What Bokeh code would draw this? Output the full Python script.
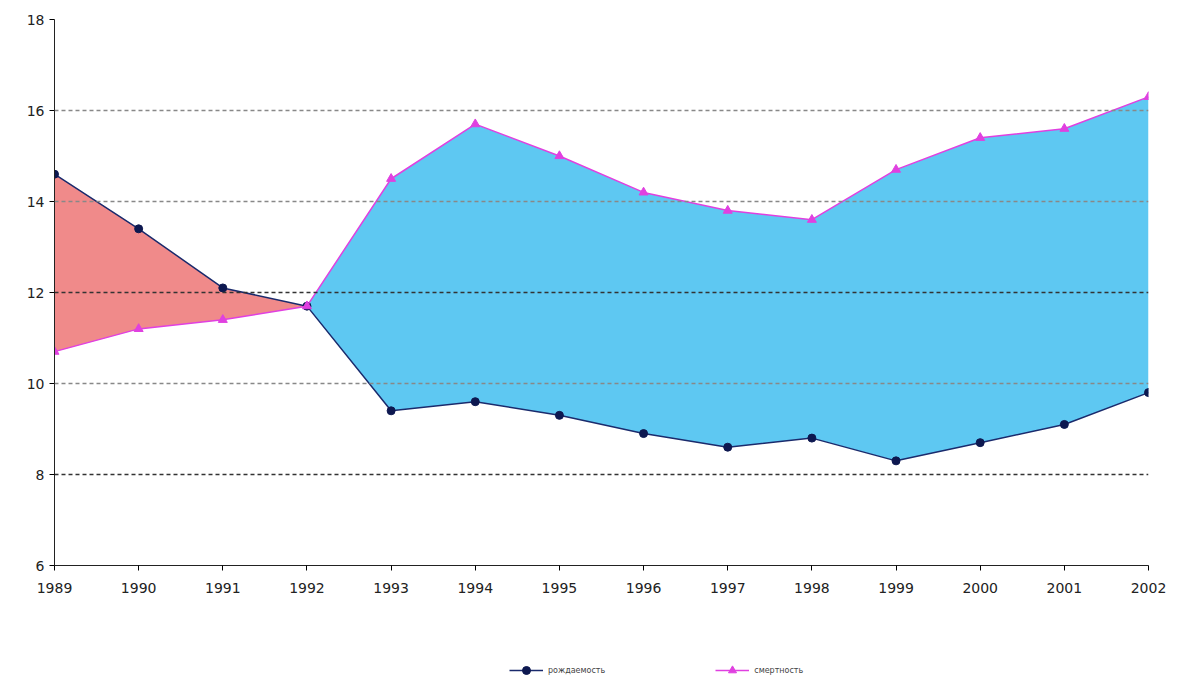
from bokeh.plotting import figure
from bokeh.models import ColumnDataSource, Legend, LegendItem, Span, FixedTicker
from bokeh.layouts import column
from bokeh.embed import file_html
from bokeh.resources import INLINE

years = list(range(1989, 2003))
birth = [14.6, 13.4, 12.1, 11.7, 9.4, 9.6, 9.3, 8.9, 8.6, 8.8, 8.3, 8.7, 9.1, 9.8]
death = [10.7, 11.2, 11.4, 11.7, 14.5, 15.7, 15.0, 14.2, 13.8, 13.6, 14.7, 15.4, 15.6, 16.3]
grid_levels = [8, 10, 12, 14, 16]

src = ColumnDataSource(dict(x=years, b=birth, d=death))
red = ColumnDataSource(dict(x=years[:4], b=birth[:4], d=death[:4]))
blue = ColumnDataSource(dict(x=years[3:], b=birth[3:], d=death[3:]))

p = figure(width=1170, height=610, x_range=(1989, 2002), y_range=(6, 18),
           output_backend="svg", toolbar_location=None,
           min_border_left=54, min_border_right=22, min_border_top=19, min_border_bottom=45)
p.outline_line_color = None
p.xgrid.visible = False
p.ygrid.visible = False

p.varea(x="x", y1="b", y2="d", source=red, fill_color="#f08a8a")
p.varea(x="x", y1="b", y2="d", source=blue, fill_color="#5ec8f2")

for lv in grid_levels:
    p.add_layout(Span(location=lv, dimension="width", line_color="#333333" if lv in (8, 12) else "#888888",
                      line_dash="4 3", line_width=1.5))

p.line("x", "b", source=src, line_color="#1a2a6c", line_width=1.5)
p.scatter("x", "b", source=src, size=8, color="#0d1850")
p.line("x", "d", source=src, line_color="#e040e0", line_width=1.5)
p.scatter("x", "d", source=src, marker="triangle", size=9, color="#e040e0")

p.xaxis.ticker = FixedTicker(ticks=years)
p.yaxis.ticker = FixedTicker(ticks=[6, 8, 10, 12, 14, 16, 18])
for ax in (p.xaxis[0], p.yaxis[0]):
    ax.major_label_text_font = "DejaVu Sans"
    ax.major_label_text_font_size = "14px"
    ax.major_label_text_color = "#222222"
    ax.axis_line_color = "#222222"
    ax.minor_tick_line_color = None
    ax.major_tick_in = 0
    ax.major_tick_out = 5
p.xaxis.major_label_standoff = 12

# legend lives in a small strip below the chart; its glyphs sit outside the visible range
lf = figure(width=1170, height=70, output_backend="svg", toolbar_location=None,
            x_range=(0, 1), y_range=(0, 1), min_border=0)
lf.axis.visible = False
lf.grid.visible = False
lf.outline_line_color = None
hidden = ColumnDataSource(dict(x=[5, 6], y=[5, 5]))
rb = lf.line("x", "y", source=hidden, line_color="#1a2a6c", line_width=1.5)
pb = lf.scatter("x", "y", source=hidden, size=8, color="#0d1850")
rd = lf.line("x", "y", source=hidden, line_color="#e040e0", line_width=1.5)
pd_ = lf.scatter("x", "y", source=hidden, marker="triangle", size=9, color="#e040e0")
legend = Legend(items=[LegendItem(label="рождаемость", renderers=[rb, pb]),
                       LegendItem(label="смертность", renderers=[rd, pd_])],
                orientation="horizontal", location=(455, 0), border_line_color=None,
                background_fill_alpha=0, label_text_font_size="8px", label_text_font="DejaVu Sans",
                spacing=110, glyph_width=34, padding=0)
lf.add_layout(legend, "center")

open("out.html", "w").write(file_html(column(p, lf, spacing=0), INLINE))
